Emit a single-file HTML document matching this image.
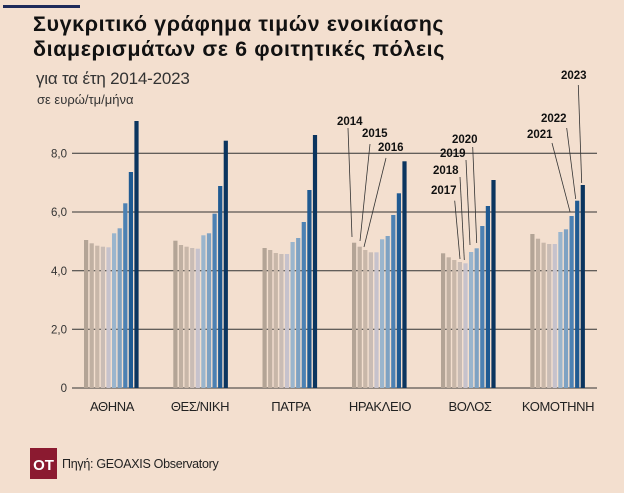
<!DOCTYPE html>
<html><head><meta charset="utf-8"><style>
html,body{margin:0;padding:0;background:#f3dfcf;}
svg{display:block;font-family:"Liberation Sans","DejaVu Sans",sans-serif;}
</style></head><body>
<svg id="s" width="624" height="493" viewBox="0 0 624 493" xmlns="http://www.w3.org/2000/svg">
<rect width="624" height="493" fill="#f3dfcf"/>
<rect x="3" y="5" width="77" height="3" fill="#1e2a5a"/>
<text x="33" y="31" font-size="21.5" font-weight="bold" fill="#111" letter-spacing="0.6">Συγκριτικό γράφημα τιμών ενοικίασης</text>
<text x="33" y="56" font-size="21.5" font-weight="bold" fill="#111" letter-spacing="0.6">διαμερισμάτων σε 6 φοιτητικές πόλεις</text>
<text x="36" y="84" font-size="17" fill="#333" letter-spacing="-0.2">για τα έτη 2014-2023</text>
<text x="37" y="104" font-size="13" fill="#333">σε ευρώ/τμ/μήνα</text>
<g id="grid" stroke="#333" stroke-width="1">
<line x1="72" y1="153.3" x2="597" y2="153.3"/>
<line x1="72" y1="212" x2="597" y2="212"/>
<line x1="72" y1="270.7" x2="597" y2="270.7"/>
<line x1="72" y1="329.3" x2="597" y2="329.3"/>
<line x1="72" y1="388" x2="597" y2="388"/>
</g>
<g font-size="11.5" fill="#333" text-anchor="end">
<text x="67" y="157.5">8,0</text>
<text x="67" y="216">6,0</text>
<text x="67" y="275">4,0</text>
<text x="67" y="333.5">2,0</text>
<text x="67" y="392">0</text>
</g>
<g id="bars"></g>
<g font-size="13" fill="#222" text-anchor="middle" letter-spacing="-0.4">
<text x="112" y="411">ΑΘΗΝΑ</text>
<text x="200" y="411">ΘΕΣ/ΝΙΚΗ</text>
<text x="291" y="411">ΠΑΤΡΑ</text>
<text x="380" y="411">ΗΡΑΚΛΕΙΟ</text>
<text x="470" y="411">ΒΟΛΟΣ</text>
<text x="558" y="411">ΚΟΜΟΤΗΝΗ</text>
</g>
<g stroke="#333" stroke-width="0.8">
<line x1="348" y1="128" x2="352" y2="237"/>
<line x1="370" y1="144" x2="360" y2="241"/>
<line x1="386" y1="158" x2="364" y2="247"/>
<line x1="454.7" y1="200.7" x2="460" y2="259"/>
<line x1="460" y1="177" x2="464.3" y2="260"/>
<line x1="466" y1="160" x2="470" y2="245"/>
<line x1="472.7" y1="147" x2="476.7" y2="243"/>
<line x1="552" y1="143" x2="570" y2="211.7"/>
<line x1="566.7" y1="128" x2="575.7" y2="199"/>
<line x1="578.3" y1="85" x2="581.7" y2="183"/>
</g>
<g font-size="11.5" font-weight="bold" fill="#111">
<text x="337" y="125">2014</text>
<text x="362" y="137">2015</text>
<text x="378" y="151">2016</text>
<text x="431" y="194">2017</text>
<text x="433" y="174">2018</text>
<text x="440" y="157">2019</text>
<text x="452" y="143">2020</text>
<text x="527" y="138">2021</text>
<text x="541" y="122">2022</text>
<text x="561" y="79">2023</text>
</g>
<rect x="30" y="448" width="27" height="31" fill="#8b1a30"/>
<text x="43.5" y="470" font-size="15" font-weight="bold" fill="#fff" text-anchor="middle">OT</text>
<text x="62" y="468" font-size="12.5" fill="#222" letter-spacing="-0.3">Πηγή: GEOAXIS Observatory</text>
</svg>
<script>
var colors=["#b3a496","#c0b0a2","#c8b7a9","#c9bcb5","#c6c2cc","#9ab5cd","#7ea2c3","#4c81b3","#1f5a92","#0b355f"];
var starts=[84,173.3,262.5,352,441,530.3];
var tops=[
[240,243.3,245.7,246.7,247.3,233.3,228.3,203.3,172,121],
[240.7,245,246.7,248,248.7,235.3,233.3,213.7,186,140.7],
[248,250,253,254,254,242,238,222,190,135],
[242.7,246.7,250,252.3,252.3,239.3,236,215,193.3,161.3],
[253.3,257.3,260,262,263.3,252,248.3,226,206,180],
[234,238.7,242.7,244,244,232,229.3,216,200.7,185]];
var g=document.getElementById("bars"),h="";
for(var c=0;c<6;c++)for(var i=0;i<10;i++){
var x=starts[c]+i*5.6,y=tops[c][i];
h+='<rect x="'+x.toFixed(1)+'" y="'+y+'" width="4.2" height="'+(388-y).toFixed(1)+'" fill="'+colors[i]+'"/>';}
g.innerHTML=h;
</script>
</body></html>
